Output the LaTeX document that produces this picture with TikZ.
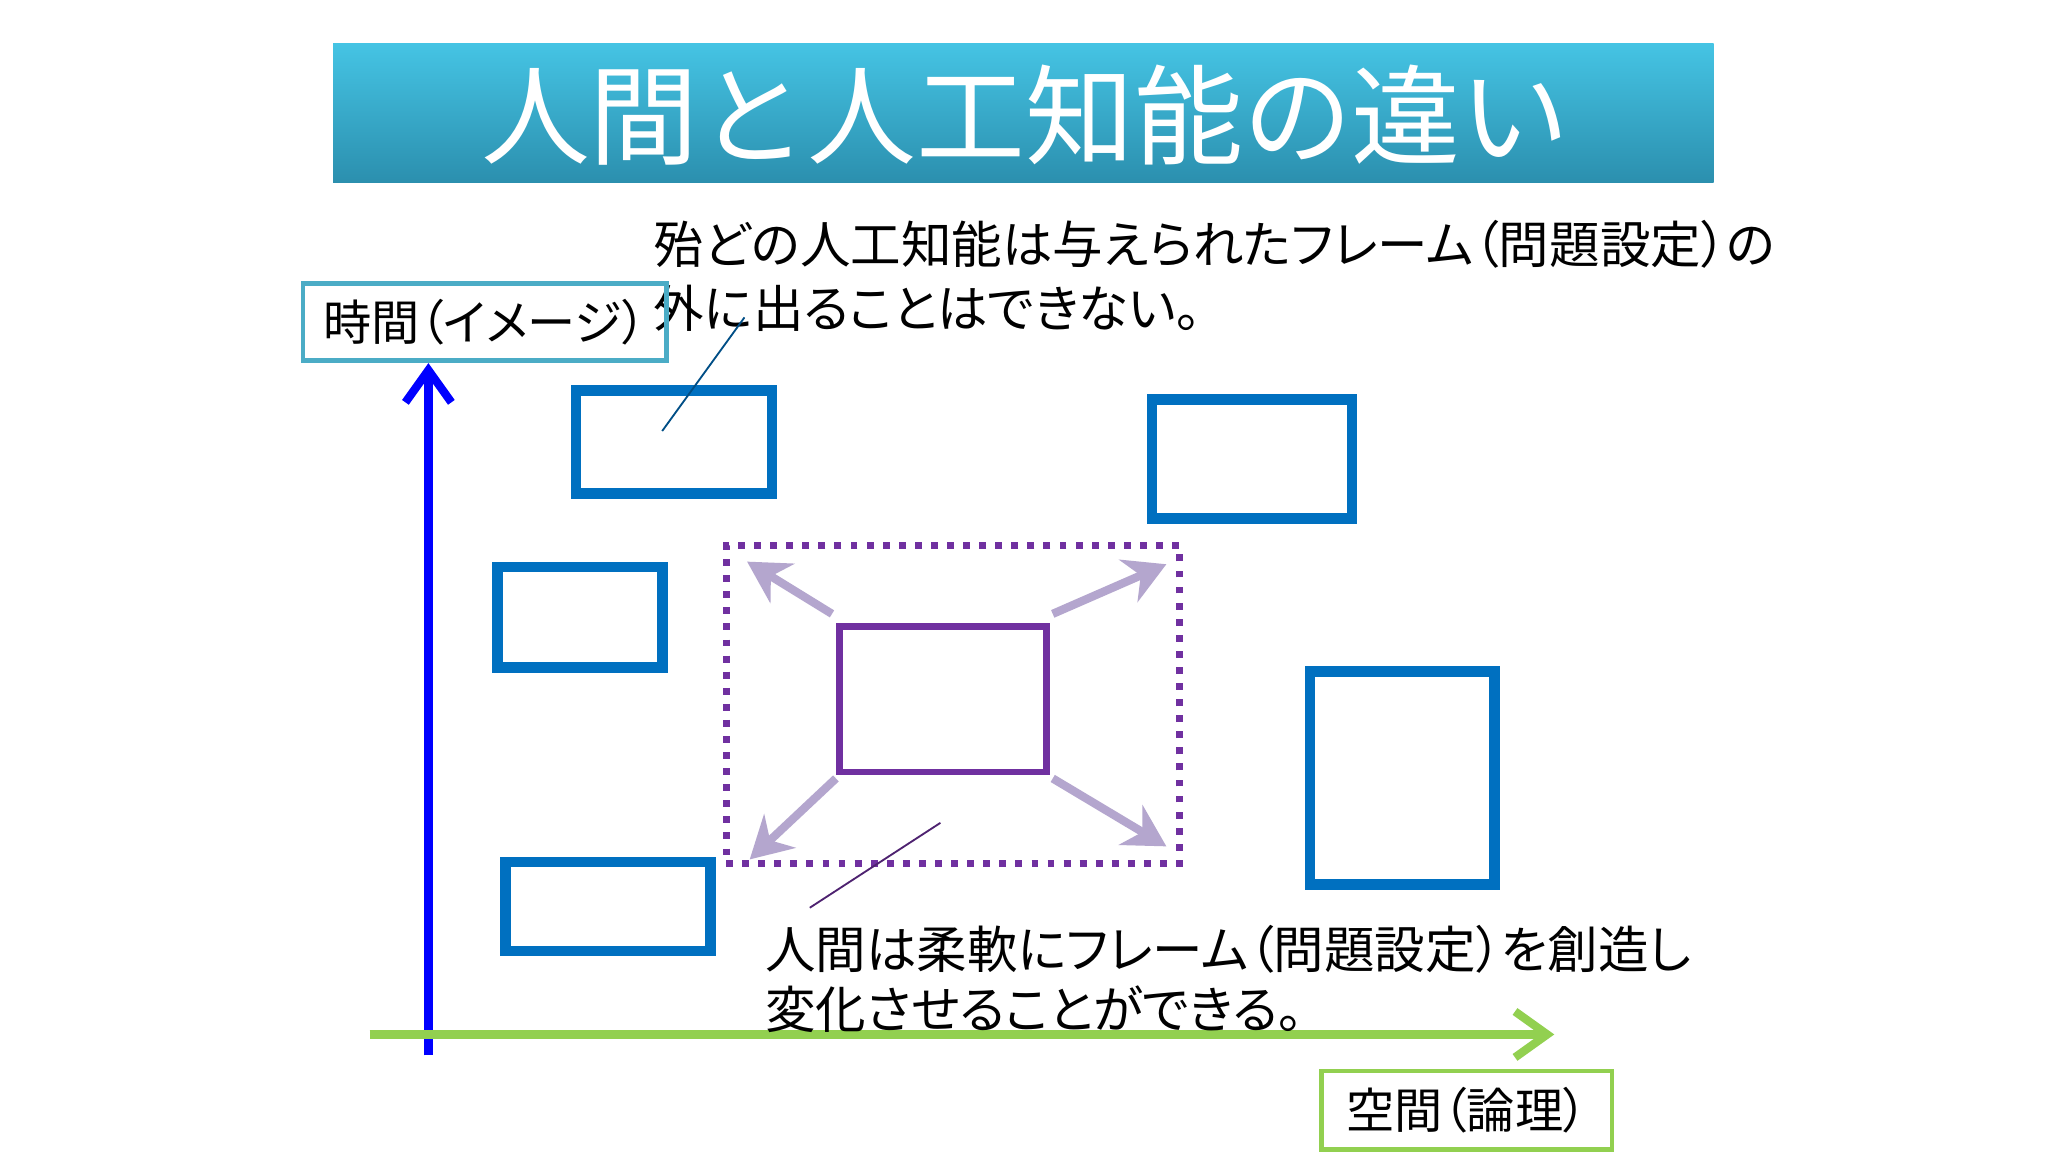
\documentclass[tikz,border=0pt]{standalone}
\usepackage{fontspec}
\setmainfont{Noto Sans CJK JP}
\newfontfamily\pfont[RawFeature=+palt]{Noto Sans CJK JP}
\usetikzlibrary{arrows.meta}
\definecolor{tbar1}{HTML}{45C4E4}
\definecolor{tbar2}{HTML}{2B8FAE}
\definecolor{bbox}{HTML}{0070C0}
\definecolor{purp}{HTML}{7030A0}
\definecolor{lpurp}{HTML}{B4A6CE}
\definecolor{grn}{HTML}{92D050}
\definecolor{teal}{HTML}{4BACC6}
\begin{document}
\begin{tikzpicture}[x=0.01cm,y=-0.01cm,
  frame/.style={draw=bbox,line width=2.3pt},
  body/.style={anchor=west,font=\pfont\fontsize{11}{14}\selectfont,inner sep=0},
  lab/.style={font=\pfont\fontsize{10.5}{13}\selectfont,inner sep=0},
  sarrow/.style={draw=lpurp,line width=1.8pt,-{Stealth[length=9pt,width=10pt]}}]
\useasboundingbox (0,0) rectangle (1568,882);
\fill[white] (0,0) rectangle (1568,882);
\shade[top color=tbar1,bottom color=tbar2] (255,33) rectangle (1312,140);
\node[text=white,font=\fontsize{23.7}{28}\selectfont] (title) at (785,88) {人間と人工知能の違い};
\node[body] (t1) at (500,187) {殆どの人工知能は与えられたフレーム（問題設定）の};
\node[body] (t2) at (500,236) {外に出ることはできない。};
\node[draw=teal,line width=1pt,lab,minimum width=2.78cm,minimum height=0.59cm] (tl) at (371,246.5) {時間（イメージ）};
\node[draw=grn,line width=1pt,lab,minimum width=2.22cm,minimum height=0.6cm] (sl) at (1123,850) {空間（論理）};
\coordinate (vb) at (328,808); \coordinate (vt) at (328,278);
\draw[blue,line width=1.8pt,-{Straight Barb[length=7pt,width=10pt]}] (vb) -- (vt);
\coordinate (hl) at (283,792); \coordinate (hr) at (1190,792);
\draw[grn,line width=1.8pt,-{Straight Barb[length=7pt,width=10pt]}] (hl) -- (hr);
\node[frame,minimum width=1.5cm,minimum height=0.79cm] (r1) at (516,338.5) {};
\node[frame,minimum width=1.53cm,minimum height=0.91cm] (r2) at (958.5,351.5) {};
\node[frame,minimum width=1.26cm,minimum height=0.77cm] (r3) at (444,472.5) {};
\node[frame,minimum width=1.41cm,minimum height=1.63cm] (r4) at (1073.5,595.5) {};
\node[frame,minimum width=1.57cm,minimum height=0.68cm] (r5) at (465.5,694) {};
\node[draw=purp,line width=1.5pt,dotted,minimum width=3.47cm,minimum height=2.43cm] (dz) at (729.5,539.5) {};
\node[draw=purp,line width=1.5pt,minimum width=1.58cm,minimum height=1.11cm] (c) at (722,535.5) {};
\coordinate (a1s) at (637,470); \coordinate (a1e) at (572,430);
\coordinate (a2s) at (806,470); \coordinate (a2e) at (893,432);
\coordinate (a3s) at (640,596); \coordinate (a3e) at (574,658);
\coordinate (a4s) at (806,596); \coordinate (a4e) at (893,648);
\draw[sarrow] (a1s) -- (a1e);
\draw[sarrow] (a2s) -- (a2e);
\draw[sarrow] (a3s) -- (a3e);
\draw[sarrow] (a4s) -- (a4e);
\coordinate (p1) at (570,243); \coordinate (p2) at (507,330);
\draw[bbox!70!black,line width=0.4pt] (p1) -- (p2);
\coordinate (p3) at (720,630); \coordinate (p4) at (620,695);
\draw[purp!70!black,line width=0.4pt] (p3) -- (p4);
\node[body] (b1) at (585,727) {人間は柔軟にフレーム（問題設定）を創造し};
\node[body] (b2) at (585,773) {変化させることができる。};
\end{tikzpicture}
\end{document}
